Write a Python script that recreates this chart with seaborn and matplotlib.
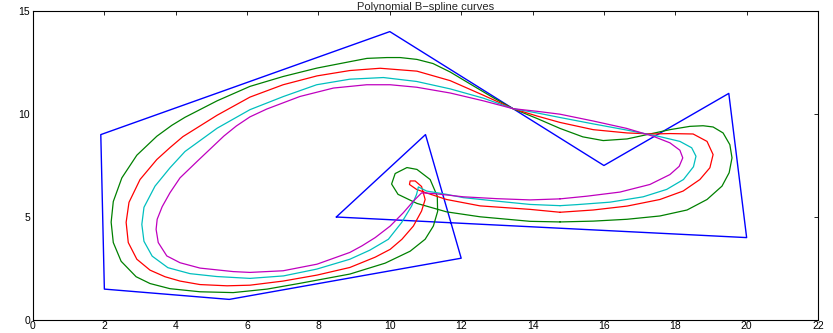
import numpy as np
import pandas as pd
import matplotlib
matplotlib.use("Agg")
import matplotlib.pyplot as plt
import seaborn as sns

# Control polygon (closed)
ctrl_x = [8.5, 11.0, 12.0, 5.5, 2.0, 1.9, 10.0, 16.0, 19.5, 20.0]
ctrl_y = [5.0, 9.0, 3.0, 1.0, 1.5, 9.0, 14.0, 7.5, 11.0, 4.0]

# Curves (closed loops)
green_x = [14.77, 15.70, 16.65, 17.57, 18.33, 18.89, 19.31, 19.51, 19.59, 19.53,
           19.34, 19.06, 18.78, 18.41, 17.85, 17.29, 16.65, 15.98, 15.41, 14.77,
           14.13, 13.45, 12.89, 12.25, 11.69, 11.21, 10.76, 10.29, 9.92, 9.36,
           8.88, 7.96, 7.01, 6.08, 5.16, 4.26, 3.89, 3.47, 2.91, 2.49,
           2.25, 2.19, 2.25, 2.47, 2.89, 3.28, 3.84, 4.68, 5.61, 6.56,
           7.48, 8.88, 9.87, 10.57, 10.99, 11.22, 11.34, 11.33, 11.13, 10.76,
           10.48, 10.15, 10.05, 10.23, 10.76, 11.59, 12.53, 13.93]
green_y = [4.76, 4.80, 4.89, 5.05, 5.34, 5.85, 6.50, 7.15, 7.87, 8.51,
           9.08, 9.37, 9.43, 9.40, 9.24, 9.03, 8.79, 8.71, 8.89, 9.30,
           9.78, 10.26, 10.80, 11.46, 12.04, 12.45, 12.65, 12.74, 12.74, 12.70,
           12.54, 12.23, 11.82, 11.34, 10.64, 9.84, 9.45, 8.92, 8.00, 6.90,
           5.75, 4.75, 3.76, 2.85, 2.10, 1.77, 1.52, 1.37, 1.33, 1.50,
           1.78, 2.23, 2.76, 3.34, 3.92, 4.56, 5.27, 6.01, 6.82, 7.31,
           7.40, 7.11, 6.60, 6.10, 5.66, 5.25, 5.01, 4.79]

red_x = [14.77, 15.70, 16.65, 17.57, 18.22, 18.69, 18.97, 19.06, 18.89, 18.50,
         17.85, 17.38, 16.65, 15.70, 14.77, 14.13, 13.45, 12.61, 11.69, 10.76,
         9.73, 8.88, 7.96, 7.01, 6.08, 5.16, 4.20, 3.84, 3.47, 3.00,
         2.69, 2.61, 2.67, 2.91, 3.28, 3.70, 4.12, 4.68, 5.44, 6.08,
         7.01, 7.96, 8.88, 9.59, 10.01, 10.34, 10.66, 10.89, 10.99, 10.89,
         10.71, 10.57, 10.55, 10.75, 10.99, 11.59, 12.53, 13.93]
red_y = [5.23, 5.34, 5.53, 5.85, 6.26, 6.82, 7.39, 8.03, 8.67, 9.03,
         9.05, 9.03, 9.08, 9.24, 9.59, 9.90, 10.26, 10.92, 11.62, 12.08,
         12.22, 12.11, 11.85, 11.42, 10.82, 9.94, 8.90, 8.37, 7.79, 6.82,
         5.71, 4.74, 3.76, 2.95, 2.42, 2.10, 1.89, 1.72, 1.66, 1.69,
         1.89, 2.18, 2.55, 3.05, 3.43, 3.92, 4.56, 5.29, 5.85, 6.48,
         6.75, 6.75, 6.58, 6.34, 6.19, 5.85, 5.54, 5.37]

cyan_x = [14.77, 15.24, 16.17, 17.10, 17.76, 18.23, 18.51, 18.58, 18.46, 18.13,
          17.57, 16.64, 15.70, 14.77, 14.13, 13.45, 12.62, 11.69, 10.75, 9.82,
          8.88, 7.95, 7.02, 6.08, 5.16, 4.26, 3.84, 3.42, 3.11, 3.05,
          3.11, 3.34, 3.78, 4.40, 5.15, 6.08, 7.02, 7.95, 8.88, 9.44,
          9.96, 10.33, 10.61, 10.75, 10.80, 11.03, 11.59, 12.06, 13.00, 13.93]
cyan_y = [5.55, 5.60, 5.72, 5.98, 6.34, 6.82, 7.44, 7.95, 8.36, 8.67,
          8.90, 9.22, 9.52, 9.83, 10.05, 10.26, 10.77, 11.22, 11.58, 11.77,
          11.69, 11.42, 10.85, 10.21, 9.31, 8.18, 7.39, 6.50, 5.47, 4.64,
          3.82, 3.10, 2.54, 2.25, 2.11, 2.02, 2.14, 2.47, 2.95, 3.39,
          3.92, 4.73, 5.53, 6.10, 6.46, 6.26, 6.10, 5.94, 5.77, 5.61]

magenta_x = [14.77, 15.52, 16.45, 17.29, 17.85, 18.11, 18.21, 18.13, 17.85, 17.38,
             16.64, 15.70, 14.77, 14.13, 13.45, 12.62, 11.69, 10.75, 10.01, 9.35,
             8.42, 7.48, 6.55, 6.08, 5.70, 5.35, 4.63, 4.12, 3.84, 3.62, 3.48,
             3.45, 3.51, 3.75, 4.12, 4.68, 5.61, 6.08, 7.01, 7.96, 8.88,
             9.22, 9.59, 10.01, 10.38, 10.66, 10.89, 11.22, 12.06, 13.00, 13.93]
magenta_y = [5.88, 6.01, 6.21, 6.58, 7.06, 7.46, 7.87, 8.24, 8.60, 8.92,
             9.30, 9.66, 9.99, 10.13, 10.26, 10.64, 11.02, 11.30, 11.42, 11.42,
             11.26, 10.85, 10.24, 9.86, 9.42, 8.93, 7.75, 6.90, 6.18, 5.50, 4.89,
             4.40, 3.76, 3.11, 2.78, 2.52, 2.35, 2.31, 2.39, 2.71, 3.28,
             3.60, 4.00, 4.56, 5.21, 5.77, 6.17, 6.14, 5.98, 5.89, 5.83]

curve_names = ["green", "red", "cyan", "magenta"]
curve_colors = ["#008000", "#ff0000", "#00bfbf", "#bf00bf"]
title = "Polynomial B\u2212spline curves"
x_ticks = list(range(0, 23, 2))
y_ticks = [0, 5, 10, 15]

sns.set_style("white")
plt.rcParams["font.family"] = ["Liberation Sans", "DejaVu Sans"]

fig = plt.figure(figsize=(8.33, 3.33), dpi=100)
ax = fig.add_axes([33 / 833, 13 / 333, 785 / 833, 309 / 333])

poly = pd.DataFrame({"x": ctrl_x + ctrl_x[:1], "y": ctrl_y + ctrl_y[:1]})
sns.lineplot(data=poly, x="x", y="y", sort=False, estimator=None, color="#0000ff",
             linewidth=1.0, ax=ax)

frames = []
for name, xs, ys in zip(curve_names,
                        [green_x, red_x, cyan_x, magenta_x],
                        [green_y, red_y, cyan_y, magenta_y]):
    frames.append(pd.DataFrame({"x": xs + xs[:1], "y": ys + ys[:1], "curve": name}))
curves = pd.concat(frames, ignore_index=True)

sns.lineplot(data=curves, x="x", y="y", hue="curve", hue_order=curve_names,
             palette=dict(zip(curve_names, curve_colors)), sort=False,
             estimator=None, linewidth=0.9, legend=False, ax=ax)

ax.set_xlim(0, 22)
ax.set_ylim(0, 15)
ax.set_xticks(x_ticks)
ax.set_yticks(y_ticks)
ax.set_xlabel("")
ax.set_ylabel("")
ax.tick_params(direction="in", length=3, width=0.6, labelsize=7.5,
               top=True, right=True, pad=0.8, colors="black")
ax.tick_params(axis="y", pad=2)
for s in ax.spines.values():
    s.set_visible(True)
    s.set_color("black")
    s.set_linewidth(0.8)
ax.set_title(title, fontsize=8, pad=0.6)

fig.savefig("out.png", dpi=100)
